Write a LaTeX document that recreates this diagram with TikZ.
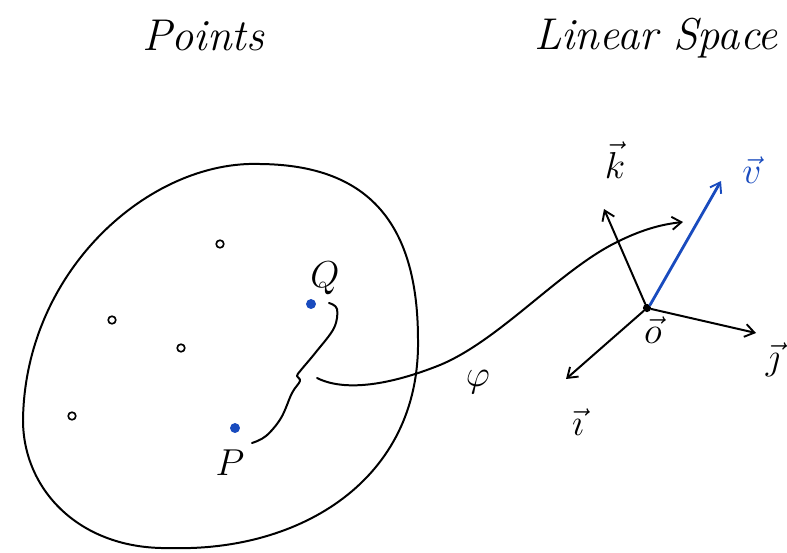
\RequirePackage{fix-cm}
\documentclass[tikz,border=0pt]{standalone}
\usetikzlibrary{arrows.meta}
\definecolor{penblue}{RGB}{25,75,190}
\begin{document}
\begin{tikzpicture}[x=0.03cm,y=-0.03cm,
  ink/.style={line width=1.7pt,line cap=round,line join=round},
  tip/.style={-{Straight Barb[length=8pt,width=11pt,line width=1.6pt]}},
  hollow/.style={circle,draw,line width=1.4pt,minimum size=6.5pt,inner sep=0pt},
  bluedot/.style={circle,fill=penblue,minimum size=8.5pt,inner sep=0pt},
  title/.style={font=\fontsize{38}{40}\selectfont\itshape},
  lbl/.style={font=\fontsize{32}{34}\selectfont}]
\useasboundingbox (0,0) rectangle (787,552);
% titles
\node[title] (tP) at (203,36) {Points};
\node[title] (tL) at (656,38) {Linear Space};
% blob
\draw[ink] (260,164) .. controls (370,165) and (418,225) .. (418,340)
  .. controls (420,480) and (300,552) .. (170,548)
  .. controls (80,550) and (23,490) .. (23,420)
  .. controls (25,270) and (150,160) .. cycle;
% points
\node[hollow] (a) at (220,244) {};
\node[hollow] (b) at (112,320) {};
\node[hollow] (c) at (181,348) {};
\node[hollow] (d) at (72,416) {};
\node[bluedot] (Q) at (311,304) {};
\node[bluedot] (P) at (235,428) {};
\node[lbl] (Ql) at (325,278) {$Q$};
\node[lbl] (Pl) at (230,463) {$P$};
% brace
\draw[ink] plot[smooth,tension=0.6] coordinates {
 (329,303) (337,309) (334,328) (316,352) (301,370) (297,376) (300,381)
 (292,393) (281,418) (266,436) (252,443)};
% phi map
\draw[ink,tip] (317,378) .. controls (345,392) and (390,385) .. (440,365)
  .. controls (500,340) and (560,270) .. (617,242)
  .. controls (645,228) and (665,224) .. (683,222);
\node[lbl] (phi) at (478,382) {$\varphi$};
% frame
\node[circle,fill=black,minimum size=7pt,inner sep=0pt] (O) at (647,308) {};
\coordinate (kend) at (604,209);
\coordinate (jend) at (756,333);
\coordinate (iend) at (566,379);
\coordinate (vend) at (721,181);
\draw[ink,tip] (O) -- (kend);
\draw[ink,tip] (O) -- (jend);
\draw[ink,tip] (O) -- (iend);
\draw[ink,tip,penblue,line width=2.4pt] (O.north east) -- (vend);
\node[lbl] (kl) at (615,160) {$\vec{k}$};
\node[lbl] (jl) at (773,360) {$\vec{\jmath}$};
\node[lbl] (il) at (578,422) {$\vec{\imath}$};
\node[lbl] (Ol) at (653,330) {$\vec{o}$};
\node[lbl,text=penblue] (vl) at (752,170) {$\vec{v}$};
\end{tikzpicture}
\end{document}
